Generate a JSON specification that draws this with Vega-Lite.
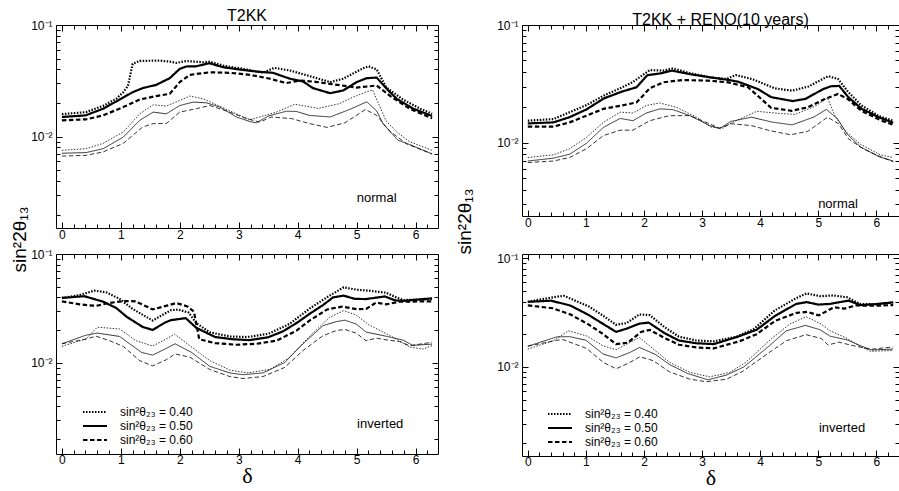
{
"$schema":"https://vega.github.io/schema/vega-lite/v6.json",
"background":"white",
"padding":{"left":9,"top":7,"right":3,"bottom":0},
"config":{"font":"Liberation Sans","view":{"stroke":"black","strokeWidth":1},
"axis":{"domain":false,"grid":false,"tickColor":"black","tickWidth":1,"labelFontSize":12,"labelColor":"black","titleColor":"black","titleFontWeight":"normal","labelFlush":false,"labelOverlap":false,"labelBound":false},
"title":{"fontSize":16,"fontWeight":"normal","color":"black"},
"legend":{"padding":0}},
"datasets":{
"notes":[{"p":"A","x":5.34,"y":0.00281,"t":"normal"},{"p":"C","x":5.34,"y":0.00303,"t":"normal"},{"p":"B","x":5.4,"y":0.00275,"t":"inverted"},{"p":"D","x":5.41,"y":0.00276,"t":"inverted"}],
"d":[
{"p":"A","s":"0.40","w":"thick","x":0,"y":0.0159},{"p":"A","s":"0.40","w":"thick","x":0.41,"y":0.0166},{"p":"A","s":"0.40","w":"thick","x":0.7,"y":0.0189},{"p":"A","s":"0.40","w":"thick","x":0.92,"y":0.0218},{"p":"A","s":"0.40","w":"thick","x":1.04,"y":0.025},{"p":"A","s":"0.40","w":"thick","x":1.12,"y":0.0284},{"p":"A","s":"0.40","w":"thick","x":1.2,"y":0.0449},{"p":"A","s":"0.40","w":"thick","x":1.32,"y":0.0477},{"p":"A","s":"0.40","w":"thick","x":1.66,"y":0.048},{"p":"A","s":"0.40","w":"thick","x":1.83,"y":0.047},{"p":"A","s":"0.40","w":"thick","x":1.94,"y":0.0458},{"p":"A","s":"0.40","w":"thick","x":2.11,"y":0.0475},{"p":"A","s":"0.40","w":"thick","x":2.4,"y":0.0464},{"p":"A","s":"0.40","w":"thick","x":2.51,"y":0.047},{"p":"A","s":"0.40","w":"thick","x":2.73,"y":0.0433},{"p":"A","s":"0.40","w":"thick","x":3.07,"y":0.0405},{"p":"A","s":"0.40","w":"thick","x":3.41,"y":0.0373},{"p":"A","s":"0.40","w":"thick","x":3.6,"y":0.0413},{"p":"A","s":"0.40","w":"thick","x":3.87,"y":0.0391},{"p":"A","s":"0.40","w":"thick","x":4.2,"y":0.0349},{"p":"A","s":"0.40","w":"thick","x":4.55,"y":0.0308},{"p":"A","s":"0.40","w":"thick","x":4.77,"y":0.033},{"p":"A","s":"0.40","w":"thick","x":5.11,"y":0.041},{"p":"A","s":"0.40","w":"thick","x":5.2,"y":0.0427},{"p":"A","s":"0.40","w":"thick","x":5.34,"y":0.04},{"p":"A","s":"0.40","w":"thick","x":5.5,"y":0.0277},{"p":"A","s":"0.40","w":"thick","x":5.79,"y":0.0214},{"p":"A","s":"0.40","w":"thick","x":6.08,"y":0.0178},{"p":"A","s":"0.40","w":"thick","x":6.28,"y":0.016},
{"p":"A","s":"0.50","w":"thick","x":0,"y":0.015},{"p":"A","s":"0.50","w":"thick","x":0.4,"y":0.0155},{"p":"A","s":"0.50","w":"thick","x":0.7,"y":0.0178},{"p":"A","s":"0.50","w":"thick","x":1.0,"y":0.0218},{"p":"A","s":"0.50","w":"thick","x":1.2,"y":0.025},{"p":"A","s":"0.50","w":"thick","x":1.37,"y":0.0272},{"p":"A","s":"0.50","w":"thick","x":1.6,"y":0.0291},{"p":"A","s":"0.50","w":"thick","x":1.83,"y":0.0334},{"p":"A","s":"0.50","w":"thick","x":2.0,"y":0.0405},{"p":"A","s":"0.50","w":"thick","x":2.11,"y":0.0425},{"p":"A","s":"0.50","w":"thick","x":2.28,"y":0.0427},{"p":"A","s":"0.50","w":"thick","x":2.5,"y":0.0455},{"p":"A","s":"0.50","w":"thick","x":2.73,"y":0.0419},{"p":"A","s":"0.50","w":"thick","x":3.02,"y":0.0399},{"p":"A","s":"0.50","w":"thick","x":3.3,"y":0.0383},{"p":"A","s":"0.50","w":"thick","x":3.58,"y":0.0373},{"p":"A","s":"0.50","w":"thick","x":3.87,"y":0.033},{"p":"A","s":"0.50","w":"thick","x":4.09,"y":0.0312},{"p":"A","s":"0.50","w":"thick","x":4.26,"y":0.0272},{"p":"A","s":"0.50","w":"thick","x":4.55,"y":0.0245},{"p":"A","s":"0.50","w":"thick","x":4.77,"y":0.0259},{"p":"A","s":"0.50","w":"thick","x":5.0,"y":0.0308},{"p":"A","s":"0.50","w":"thick","x":5.17,"y":0.0334},{"p":"A","s":"0.50","w":"thick","x":5.34,"y":0.0338},{"p":"A","s":"0.50","w":"thick","x":5.51,"y":0.0268},{"p":"A","s":"0.50","w":"thick","x":5.68,"y":0.0218},{"p":"A","s":"0.50","w":"thick","x":5.96,"y":0.0178},{"p":"A","s":"0.50","w":"thick","x":6.28,"y":0.0153},
{"p":"A","s":"0.60","w":"thick","x":0,"y":0.014},{"p":"A","s":"0.60","w":"thick","x":0.41,"y":0.0143},{"p":"A","s":"0.60","w":"thick","x":0.7,"y":0.0155},{"p":"A","s":"0.60","w":"thick","x":1.04,"y":0.0184},{"p":"A","s":"0.60","w":"thick","x":1.32,"y":0.0215},{"p":"A","s":"0.60","w":"thick","x":1.6,"y":0.0231},{"p":"A","s":"0.60","w":"thick","x":1.83,"y":0.0242},{"p":"A","s":"0.60","w":"thick","x":2.0,"y":0.0308},{"p":"A","s":"0.60","w":"thick","x":2.17,"y":0.0358},{"p":"A","s":"0.60","w":"thick","x":2.51,"y":0.0377},{"p":"A","s":"0.60","w":"thick","x":2.85,"y":0.0373},{"p":"A","s":"0.60","w":"thick","x":3.19,"y":0.0358},{"p":"A","s":"0.60","w":"thick","x":3.53,"y":0.033},{"p":"A","s":"0.60","w":"thick","x":3.81,"y":0.0302},{"p":"A","s":"0.60","w":"thick","x":4.04,"y":0.0318},{"p":"A","s":"0.60","w":"thick","x":4.3,"y":0.031},{"p":"A","s":"0.60","w":"thick","x":4.55,"y":0.0297},{"p":"A","s":"0.60","w":"thick","x":4.8,"y":0.0285},{"p":"A","s":"0.60","w":"thick","x":5.0,"y":0.0275},{"p":"A","s":"0.60","w":"thick","x":5.34,"y":0.0287},{"p":"A","s":"0.60","w":"thick","x":5.56,"y":0.0233},{"p":"A","s":"0.60","w":"thick","x":5.9,"y":0.0178},{"p":"A","s":"0.60","w":"thick","x":6.28,"y":0.0146},
{"p":"A","s":"0.40","w":"thin","x":0,"y":0.00755},{"p":"A","s":"0.40","w":"thin","x":0.41,"y":0.0078},{"p":"A","s":"0.40","w":"thin","x":0.7,"y":0.0087},{"p":"A","s":"0.40","w":"thin","x":1.04,"y":0.011},{"p":"A","s":"0.40","w":"thin","x":1.32,"y":0.016},{"p":"A","s":"0.40","w":"thin","x":1.55,"y":0.0193},{"p":"A","s":"0.40","w":"thin","x":1.77,"y":0.0188},{"p":"A","s":"0.40","w":"thin","x":2.0,"y":0.0211},{"p":"A","s":"0.40","w":"thin","x":2.17,"y":0.0231},{"p":"A","s":"0.40","w":"thin","x":2.4,"y":0.0218},{"p":"A","s":"0.40","w":"thin","x":2.62,"y":0.0193},{"p":"A","s":"0.40","w":"thin","x":2.96,"y":0.016},{"p":"A","s":"0.40","w":"thin","x":3.19,"y":0.0142},{"p":"A","s":"0.40","w":"thin","x":3.41,"y":0.0153},{"p":"A","s":"0.40","w":"thin","x":3.64,"y":0.0166},{"p":"A","s":"0.40","w":"thin","x":3.95,"y":0.0195},{"p":"A","s":"0.40","w":"thin","x":4.35,"y":0.0179},{"p":"A","s":"0.40","w":"thin","x":4.7,"y":0.0197},{"p":"A","s":"0.40","w":"thin","x":4.94,"y":0.0226},{"p":"A","s":"0.40","w":"thin","x":5.15,"y":0.025},{"p":"A","s":"0.40","w":"thin","x":5.27,"y":0.0262},{"p":"A","s":"0.40","w":"thin","x":5.5,"y":0.0138},{"p":"A","s":"0.40","w":"thin","x":5.68,"y":0.011},{"p":"A","s":"0.40","w":"thin","x":5.9,"y":0.009},{"p":"A","s":"0.40","w":"thin","x":6.28,"y":0.00755},
{"p":"A","s":"0.50","w":"thin","x":0,"y":0.0071},{"p":"A","s":"0.50","w":"thin","x":0.41,"y":0.0072},{"p":"A","s":"0.50","w":"thin","x":0.7,"y":0.0078},{"p":"A","s":"0.50","w":"thin","x":1.04,"y":0.0099},{"p":"A","s":"0.50","w":"thin","x":1.32,"y":0.014},{"p":"A","s":"0.50","w":"thin","x":1.55,"y":0.0166},{"p":"A","s":"0.50","w":"thin","x":1.77,"y":0.016},{"p":"A","s":"0.50","w":"thin","x":2.0,"y":0.019},{"p":"A","s":"0.50","w":"thin","x":2.23,"y":0.0204},{"p":"A","s":"0.50","w":"thin","x":2.45,"y":0.0201},{"p":"A","s":"0.50","w":"thin","x":2.68,"y":0.0184},{"p":"A","s":"0.50","w":"thin","x":2.96,"y":0.015},{"p":"A","s":"0.50","w":"thin","x":3.2,"y":0.0136},{"p":"A","s":"0.50","w":"thin","x":3.3,"y":0.0133},{"p":"A","s":"0.50","w":"thin","x":3.5,"y":0.0153},{"p":"A","s":"0.50","w":"thin","x":3.81,"y":0.0169},{"p":"A","s":"0.50","w":"thin","x":3.98,"y":0.0168},{"p":"A","s":"0.50","w":"thin","x":4.2,"y":0.0155},{"p":"A","s":"0.50","w":"thin","x":4.55,"y":0.015},{"p":"A","s":"0.50","w":"thin","x":4.89,"y":0.0176},{"p":"A","s":"0.50","w":"thin","x":5.17,"y":0.0205},{"p":"A","s":"0.50","w":"thin","x":5.34,"y":0.017},{"p":"A","s":"0.50","w":"thin","x":5.45,"y":0.013},{"p":"A","s":"0.50","w":"thin","x":5.7,"y":0.0093},{"p":"A","s":"0.50","w":"thin","x":5.9,"y":0.0085},{"p":"A","s":"0.50","w":"thin","x":6.28,"y":0.007},
{"p":"A","s":"0.60","w":"thin","x":0,"y":0.0067},{"p":"A","s":"0.60","w":"thin","x":0.41,"y":0.0068},{"p":"A","s":"0.60","w":"thin","x":0.7,"y":0.0073},{"p":"A","s":"0.60","w":"thin","x":1.04,"y":0.0087},{"p":"A","s":"0.60","w":"thin","x":1.37,"y":0.0122},{"p":"A","s":"0.60","w":"thin","x":1.55,"y":0.0131},{"p":"A","s":"0.60","w":"thin","x":1.77,"y":0.0131},{"p":"A","s":"0.60","w":"thin","x":2.0,"y":0.0166},{"p":"A","s":"0.60","w":"thin","x":2.28,"y":0.0178},{"p":"A","s":"0.60","w":"thin","x":2.51,"y":0.019},{"p":"A","s":"0.60","w":"thin","x":2.85,"y":0.0166},{"p":"A","s":"0.60","w":"thin","x":3.13,"y":0.0145},{"p":"A","s":"0.60","w":"thin","x":3.36,"y":0.0135},{"p":"A","s":"0.60","w":"thin","x":3.55,"y":0.015},{"p":"A","s":"0.60","w":"thin","x":3.9,"y":0.0145},{"p":"A","s":"0.60","w":"thin","x":4.2,"y":0.0131},{"p":"A","s":"0.60","w":"thin","x":4.5,"y":0.0121},{"p":"A","s":"0.60","w":"thin","x":4.8,"y":0.0133},{"p":"A","s":"0.60","w":"thin","x":5.15,"y":0.0175},{"p":"A","s":"0.60","w":"thin","x":5.34,"y":0.0155},{"p":"A","s":"0.60","w":"thin","x":5.56,"y":0.0112},{"p":"A","s":"0.60","w":"thin","x":5.85,"y":0.0086},{"p":"A","s":"0.60","w":"thin","x":6.28,"y":0.007},
{"p":"B","s":"0.40","w":"thick","x":0,"y":0.0395},{"p":"B","s":"0.40","w":"thick","x":0.3,"y":0.042},{"p":"B","s":"0.40","w":"thick","x":0.55,"y":0.0461},{"p":"B","s":"0.40","w":"thick","x":0.75,"y":0.0445},{"p":"B","s":"0.40","w":"thick","x":0.98,"y":0.0387},{"p":"B","s":"0.40","w":"thick","x":1.2,"y":0.0313},{"p":"B","s":"0.40","w":"thick","x":1.54,"y":0.0245},{"p":"B","s":"0.40","w":"thick","x":1.85,"y":0.0305},{"p":"B","s":"0.40","w":"thick","x":1.97,"y":0.0309},{"p":"B","s":"0.40","w":"thick","x":2.15,"y":0.029},{"p":"B","s":"0.40","w":"thick","x":2.28,"y":0.0232},{"p":"B","s":"0.40","w":"thick","x":2.51,"y":0.0191},{"p":"B","s":"0.40","w":"thick","x":2.85,"y":0.0175},{"p":"B","s":"0.40","w":"thick","x":3.15,"y":0.0173},{"p":"B","s":"0.40","w":"thick","x":3.5,"y":0.0185},{"p":"B","s":"0.40","w":"thick","x":3.86,"y":0.0228},{"p":"B","s":"0.40","w":"thick","x":4.2,"y":0.0315},{"p":"B","s":"0.40","w":"thick","x":4.54,"y":0.0415},{"p":"B","s":"0.40","w":"thick","x":4.78,"y":0.0494},{"p":"B","s":"0.40","w":"thick","x":5.0,"y":0.047},{"p":"B","s":"0.40","w":"thick","x":5.2,"y":0.0461},{"p":"B","s":"0.40","w":"thick","x":5.5,"y":0.0441},{"p":"B","s":"0.40","w":"thick","x":5.67,"y":0.04},{"p":"B","s":"0.40","w":"thick","x":5.8,"y":0.0378},{"p":"B","s":"0.40","w":"thick","x":6.28,"y":0.0385},
{"p":"B","s":"0.50","w":"thick","x":0,"y":0.0395},{"p":"B","s":"0.50","w":"thick","x":0.38,"y":0.041},{"p":"B","s":"0.50","w":"thick","x":0.7,"y":0.0365},{"p":"B","s":"0.50","w":"thick","x":0.92,"y":0.032},{"p":"B","s":"0.50","w":"thick","x":1.1,"y":0.0265},{"p":"B","s":"0.50","w":"thick","x":1.37,"y":0.0214},{"p":"B","s":"0.50","w":"thick","x":1.54,"y":0.0201},{"p":"B","s":"0.50","w":"thick","x":1.75,"y":0.0235},{"p":"B","s":"0.50","w":"thick","x":1.85,"y":0.0247},{"p":"B","s":"0.50","w":"thick","x":2.1,"y":0.0258},{"p":"B","s":"0.50","w":"thick","x":2.28,"y":0.021},{"p":"B","s":"0.50","w":"thick","x":2.6,"y":0.0173},{"p":"B","s":"0.50","w":"thick","x":2.9,"y":0.0165},{"p":"B","s":"0.50","w":"thick","x":3.18,"y":0.0162},{"p":"B","s":"0.50","w":"thick","x":3.5,"y":0.0172},{"p":"B","s":"0.50","w":"thick","x":3.75,"y":0.0195},{"p":"B","s":"0.50","w":"thick","x":4.0,"y":0.0236},{"p":"B","s":"0.50","w":"thick","x":4.2,"y":0.0282},{"p":"B","s":"0.50","w":"thick","x":4.43,"y":0.034},{"p":"B","s":"0.50","w":"thick","x":4.6,"y":0.04},{"p":"B","s":"0.50","w":"thick","x":4.78,"y":0.0415},{"p":"B","s":"0.50","w":"thick","x":4.97,"y":0.0387},{"p":"B","s":"0.50","w":"thick","x":5.16,"y":0.0386},{"p":"B","s":"0.50","w":"thick","x":5.48,"y":0.0408},{"p":"B","s":"0.50","w":"thick","x":5.65,"y":0.0375},{"p":"B","s":"0.50","w":"thick","x":5.8,"y":0.0372},{"p":"B","s":"0.50","w":"thick","x":6.28,"y":0.0392},
{"p":"B","s":"0.60","w":"thick","x":0,"y":0.0368},{"p":"B","s":"0.60","w":"thick","x":0.3,"y":0.0345},{"p":"B","s":"0.60","w":"thick","x":0.58,"y":0.0334},{"p":"B","s":"0.60","w":"thick","x":0.8,"y":0.0355},{"p":"B","s":"0.60","w":"thick","x":1.05,"y":0.037},{"p":"B","s":"0.60","w":"thick","x":1.25,"y":0.0368},{"p":"B","s":"0.60","w":"thick","x":1.54,"y":0.031},{"p":"B","s":"0.60","w":"thick","x":1.8,"y":0.0338},{"p":"B","s":"0.60","w":"thick","x":1.94,"y":0.0355},{"p":"B","s":"0.60","w":"thick","x":2.13,"y":0.033},{"p":"B","s":"0.60","w":"thick","x":2.24,"y":0.0296},{"p":"B","s":"0.60","w":"thick","x":2.33,"y":0.0165},{"p":"B","s":"0.60","w":"thick","x":2.6,"y":0.0152},{"p":"B","s":"0.60","w":"thick","x":2.96,"y":0.0147},{"p":"B","s":"0.60","w":"thick","x":3.3,"y":0.015},{"p":"B","s":"0.60","w":"thick","x":3.64,"y":0.016},{"p":"B","s":"0.60","w":"thick","x":3.98,"y":0.0198},{"p":"B","s":"0.60","w":"thick","x":4.2,"y":0.0245},{"p":"B","s":"0.60","w":"thick","x":4.5,"y":0.031},{"p":"B","s":"0.60","w":"thick","x":4.75,"y":0.0329},{"p":"B","s":"0.60","w":"thick","x":5.0,"y":0.0312},{"p":"B","s":"0.60","w":"thick","x":5.16,"y":0.0313},{"p":"B","s":"0.60","w":"thick","x":5.33,"y":0.0358},{"p":"B","s":"0.60","w":"thick","x":5.5,"y":0.0345},{"p":"B","s":"0.60","w":"thick","x":5.73,"y":0.0365},{"p":"B","s":"0.60","w":"thick","x":6.28,"y":0.0368},
{"p":"B","s":"0.40","w":"thin","x":0,"y":0.0142},{"p":"B","s":"0.40","w":"thin","x":0.41,"y":0.0166},{"p":"B","s":"0.40","w":"thin","x":0.6,"y":0.0213},{"p":"B","s":"0.40","w":"thin","x":0.98,"y":0.0205},{"p":"B","s":"0.40","w":"thin","x":1.26,"y":0.016},{"p":"B","s":"0.40","w":"thin","x":1.54,"y":0.0143},{"p":"B","s":"0.40","w":"thin","x":1.77,"y":0.0166},{"p":"B","s":"0.40","w":"thin","x":1.91,"y":0.0184},{"p":"B","s":"0.40","w":"thin","x":2.17,"y":0.0144},{"p":"B","s":"0.40","w":"thin","x":2.51,"y":0.0105},{"p":"B","s":"0.40","w":"thin","x":2.85,"y":0.0086},{"p":"B","s":"0.40","w":"thin","x":3.15,"y":0.0081},{"p":"B","s":"0.40","w":"thin","x":3.52,"y":0.0087},{"p":"B","s":"0.40","w":"thin","x":3.84,"y":0.011},{"p":"B","s":"0.40","w":"thin","x":4.2,"y":0.0175},{"p":"B","s":"0.40","w":"thin","x":4.54,"y":0.0262},{"p":"B","s":"0.40","w":"thin","x":4.78,"y":0.0302},{"p":"B","s":"0.40","w":"thin","x":4.99,"y":0.0276},{"p":"B","s":"0.40","w":"thin","x":5.2,"y":0.0225},{"p":"B","s":"0.40","w":"thin","x":5.5,"y":0.0186},{"p":"B","s":"0.40","w":"thin","x":5.67,"y":0.0166},{"p":"B","s":"0.40","w":"thin","x":5.9,"y":0.014},{"p":"B","s":"0.40","w":"thin","x":6.12,"y":0.0134},{"p":"B","s":"0.40","w":"thin","x":6.28,"y":0.0144},
{"p":"B","s":"0.50","w":"thin","x":0,"y":0.015},{"p":"B","s":"0.50","w":"thin","x":0.41,"y":0.018},{"p":"B","s":"0.50","w":"thin","x":0.6,"y":0.0188},{"p":"B","s":"0.50","w":"thin","x":0.98,"y":0.0175},{"p":"B","s":"0.50","w":"thin","x":1.35,"y":0.0125},{"p":"B","s":"0.50","w":"thin","x":1.54,"y":0.0118},{"p":"B","s":"0.50","w":"thin","x":1.77,"y":0.0136},{"p":"B","s":"0.50","w":"thin","x":1.92,"y":0.015},{"p":"B","s":"0.50","w":"thin","x":2.2,"y":0.0125},{"p":"B","s":"0.50","w":"thin","x":2.51,"y":0.0093},{"p":"B","s":"0.50","w":"thin","x":2.85,"y":0.0081},{"p":"B","s":"0.50","w":"thin","x":3.07,"y":0.0078},{"p":"B","s":"0.50","w":"thin","x":3.41,"y":0.0081},{"p":"B","s":"0.50","w":"thin","x":3.78,"y":0.0101},{"p":"B","s":"0.50","w":"thin","x":4.09,"y":0.015},{"p":"B","s":"0.50","w":"thin","x":4.43,"y":0.022},{"p":"B","s":"0.50","w":"thin","x":4.65,"y":0.0239},{"p":"B","s":"0.50","w":"thin","x":4.8,"y":0.0247},{"p":"B","s":"0.50","w":"thin","x":4.99,"y":0.0228},{"p":"B","s":"0.50","w":"thin","x":5.16,"y":0.0192},{"p":"B","s":"0.50","w":"thin","x":5.5,"y":0.0176},{"p":"B","s":"0.50","w":"thin","x":5.79,"y":0.0162},{"p":"B","s":"0.50","w":"thin","x":5.95,"y":0.0145},{"p":"B","s":"0.50","w":"thin","x":6.28,"y":0.0149},
{"p":"B","s":"0.60","w":"thin","x":0,"y":0.015},{"p":"B","s":"0.60","w":"thin","x":0.41,"y":0.0166},{"p":"B","s":"0.60","w":"thin","x":0.58,"y":0.0176},{"p":"B","s":"0.60","w":"thin","x":0.81,"y":0.016},{"p":"B","s":"0.60","w":"thin","x":1.04,"y":0.0142},{"p":"B","s":"0.60","w":"thin","x":1.32,"y":0.0105},{"p":"B","s":"0.60","w":"thin","x":1.54,"y":0.0094},{"p":"B","s":"0.60","w":"thin","x":1.77,"y":0.0107},{"p":"B","s":"0.60","w":"thin","x":1.92,"y":0.0121},{"p":"B","s":"0.60","w":"thin","x":2.17,"y":0.0113},{"p":"B","s":"0.60","w":"thin","x":2.51,"y":0.0087},{"p":"B","s":"0.60","w":"thin","x":2.85,"y":0.0075},{"p":"B","s":"0.60","w":"thin","x":3.07,"y":0.0072},{"p":"B","s":"0.60","w":"thin","x":3.41,"y":0.0075},{"p":"B","s":"0.60","w":"thin","x":3.78,"y":0.0091},{"p":"B","s":"0.60","w":"thin","x":4.09,"y":0.013},{"p":"B","s":"0.60","w":"thin","x":4.43,"y":0.0178},{"p":"B","s":"0.60","w":"thin","x":4.65,"y":0.0198},{"p":"B","s":"0.60","w":"thin","x":4.8,"y":0.0203},{"p":"B","s":"0.60","w":"thin","x":4.99,"y":0.0188},{"p":"B","s":"0.60","w":"thin","x":5.16,"y":0.016},{"p":"B","s":"0.60","w":"thin","x":5.33,"y":0.0169},{"p":"B","s":"0.60","w":"thin","x":5.5,"y":0.0163},{"p":"B","s":"0.60","w":"thin","x":5.73,"y":0.0157},{"p":"B","s":"0.60","w":"thin","x":5.9,"y":0.0144},{"p":"B","s":"0.60","w":"thin","x":6.28,"y":0.0155},
{"p":"C","s":"0.40","w":"thick","x":0,"y":0.0154},{"p":"C","s":"0.40","w":"thick","x":0.44,"y":0.0159},{"p":"C","s":"0.40","w":"thick","x":0.7,"y":0.018},{"p":"C","s":"0.40","w":"thick","x":1.01,"y":0.0209},{"p":"C","s":"0.40","w":"thick","x":1.33,"y":0.0255},{"p":"C","s":"0.40","w":"thick","x":1.59,"y":0.029},{"p":"C","s":"0.40","w":"thick","x":1.8,"y":0.0326},{"p":"C","s":"0.40","w":"thick","x":2.1,"y":0.0414},{"p":"C","s":"0.40","w":"thick","x":2.33,"y":0.041},{"p":"C","s":"0.40","w":"thick","x":2.5,"y":0.0428},{"p":"C","s":"0.40","w":"thick","x":2.79,"y":0.039},{"p":"C","s":"0.40","w":"thick","x":3.13,"y":0.036},{"p":"C","s":"0.40","w":"thick","x":3.42,"y":0.0348},{"p":"C","s":"0.40","w":"thick","x":3.58,"y":0.0376},{"p":"C","s":"0.40","w":"thick","x":3.88,"y":0.0345},{"p":"C","s":"0.40","w":"thick","x":4.25,"y":0.029},{"p":"C","s":"0.40","w":"thick","x":4.55,"y":0.0277},{"p":"C","s":"0.40","w":"thick","x":4.83,"y":0.03},{"p":"C","s":"0.40","w":"thick","x":5.17,"y":0.0368},{"p":"C","s":"0.40","w":"thick","x":5.34,"y":0.0348},{"p":"C","s":"0.40","w":"thick","x":5.51,"y":0.0272},{"p":"C","s":"0.40","w":"thick","x":5.74,"y":0.0208},{"p":"C","s":"0.40","w":"thick","x":6.05,"y":0.0168},{"p":"C","s":"0.40","w":"thick","x":6.29,"y":0.0154},
{"p":"C","s":"0.50","w":"thick","x":0,"y":0.0146},{"p":"C","s":"0.50","w":"thick","x":0.44,"y":0.0149},{"p":"C","s":"0.50","w":"thick","x":0.72,"y":0.0165},{"p":"C","s":"0.50","w":"thick","x":1.01,"y":0.0192},{"p":"C","s":"0.50","w":"thick","x":1.31,"y":0.0238},{"p":"C","s":"0.50","w":"thick","x":1.62,"y":0.0272},{"p":"C","s":"0.50","w":"thick","x":1.87,"y":0.0296},{"p":"C","s":"0.50","w":"thick","x":2.06,"y":0.0375},{"p":"C","s":"0.50","w":"thick","x":2.28,"y":0.0388},{"p":"C","s":"0.50","w":"thick","x":2.48,"y":0.041},{"p":"C","s":"0.50","w":"thick","x":2.8,"y":0.0382},{"p":"C","s":"0.50","w":"thick","x":3.13,"y":0.036},{"p":"C","s":"0.50","w":"thick","x":3.45,"y":0.0342},{"p":"C","s":"0.50","w":"thick","x":3.62,"y":0.033},{"p":"C","s":"0.50","w":"thick","x":3.96,"y":0.0286},{"p":"C","s":"0.50","w":"thick","x":4.19,"y":0.0244},{"p":"C","s":"0.50","w":"thick","x":4.56,"y":0.0226},{"p":"C","s":"0.50","w":"thick","x":4.78,"y":0.0236},{"p":"C","s":"0.50","w":"thick","x":5.08,"y":0.0285},{"p":"C","s":"0.50","w":"thick","x":5.22,"y":0.0302},{"p":"C","s":"0.50","w":"thick","x":5.36,"y":0.0304},{"p":"C","s":"0.50","w":"thick","x":5.52,"y":0.0243},{"p":"C","s":"0.50","w":"thick","x":5.75,"y":0.0194},{"p":"C","s":"0.50","w":"thick","x":6.05,"y":0.0164},{"p":"C","s":"0.50","w":"thick","x":6.29,"y":0.0148},
{"p":"C","s":"0.60","w":"thick","x":0,"y":0.0137},{"p":"C","s":"0.60","w":"thick","x":0.44,"y":0.0137},{"p":"C","s":"0.60","w":"thick","x":0.72,"y":0.0149},{"p":"C","s":"0.60","w":"thick","x":1.01,"y":0.017},{"p":"C","s":"0.60","w":"thick","x":1.3,"y":0.0194},{"p":"C","s":"0.60","w":"thick","x":1.59,"y":0.0206},{"p":"C","s":"0.60","w":"thick","x":1.87,"y":0.022},{"p":"C","s":"0.60","w":"thick","x":2.1,"y":0.029},{"p":"C","s":"0.60","w":"thick","x":2.33,"y":0.0326},{"p":"C","s":"0.60","w":"thick","x":2.67,"y":0.0341},{"p":"C","s":"0.60","w":"thick","x":3.1,"y":0.0337},{"p":"C","s":"0.60","w":"thick","x":3.45,"y":0.0326},{"p":"C","s":"0.60","w":"thick","x":3.79,"y":0.0296},{"p":"C","s":"0.60","w":"thick","x":3.96,"y":0.025},{"p":"C","s":"0.60","w":"thick","x":4.19,"y":0.0198},{"p":"C","s":"0.60","w":"thick","x":4.54,"y":0.0187},{"p":"C","s":"0.60","w":"thick","x":4.82,"y":0.02},{"p":"C","s":"0.60","w":"thick","x":5.11,"y":0.0235},{"p":"C","s":"0.60","w":"thick","x":5.34,"y":0.026},{"p":"C","s":"0.60","w":"thick","x":5.51,"y":0.0235},{"p":"C","s":"0.60","w":"thick","x":5.74,"y":0.0187},{"p":"C","s":"0.60","w":"thick","x":6.09,"y":0.0154},{"p":"C","s":"0.60","w":"thick","x":6.29,"y":0.0142},
{"p":"C","s":"0.40","w":"thin","x":0,"y":0.0075},{"p":"C","s":"0.40","w":"thin","x":0.44,"y":0.0079},{"p":"C","s":"0.40","w":"thin","x":0.72,"y":0.0089},{"p":"C","s":"0.40","w":"thin","x":1.01,"y":0.0111},{"p":"C","s":"0.40","w":"thin","x":1.3,"y":0.0149},{"p":"C","s":"0.40","w":"thin","x":1.59,"y":0.0182},{"p":"C","s":"0.40","w":"thin","x":1.81,"y":0.0179},{"p":"C","s":"0.40","w":"thin","x":2.04,"y":0.0207},{"p":"C","s":"0.40","w":"thin","x":2.27,"y":0.0218},{"p":"C","s":"0.40","w":"thin","x":2.56,"y":0.02},{"p":"C","s":"0.40","w":"thin","x":2.9,"y":0.0165},{"p":"C","s":"0.40","w":"thin","x":3.15,"y":0.0136},{"p":"C","s":"0.40","w":"thin","x":3.36,"y":0.0133},{"p":"C","s":"0.40","w":"thin","x":3.5,"y":0.0147},{"p":"C","s":"0.40","w":"thin","x":3.94,"y":0.0185},{"p":"C","s":"0.40","w":"thin","x":4.3,"y":0.0178},{"p":"C","s":"0.40","w":"thin","x":4.6,"y":0.0174},{"p":"C","s":"0.40","w":"thin","x":4.95,"y":0.0205},{"p":"C","s":"0.40","w":"thin","x":5.16,"y":0.024},{"p":"C","s":"0.40","w":"thin","x":5.28,"y":0.0172},{"p":"C","s":"0.40","w":"thin","x":5.47,"y":0.0125},{"p":"C","s":"0.40","w":"thin","x":5.73,"y":0.0097},{"p":"C","s":"0.40","w":"thin","x":6.07,"y":0.0079},{"p":"C","s":"0.40","w":"thin","x":6.29,"y":0.0075},
{"p":"C","s":"0.50","w":"thin","x":0,"y":0.007},{"p":"C","s":"0.50","w":"thin","x":0.44,"y":0.0074},{"p":"C","s":"0.50","w":"thin","x":0.72,"y":0.008},{"p":"C","s":"0.50","w":"thin","x":1.01,"y":0.0099},{"p":"C","s":"0.50","w":"thin","x":1.3,"y":0.0135},{"p":"C","s":"0.50","w":"thin","x":1.59,"y":0.0161},{"p":"C","s":"0.50","w":"thin","x":1.81,"y":0.0154},{"p":"C","s":"0.50","w":"thin","x":2.04,"y":0.0179},{"p":"C","s":"0.50","w":"thin","x":2.27,"y":0.0194},{"p":"C","s":"0.50","w":"thin","x":2.5,"y":0.0191},{"p":"C","s":"0.50","w":"thin","x":2.79,"y":0.017},{"p":"C","s":"0.50","w":"thin","x":3.13,"y":0.014},{"p":"C","s":"0.50","w":"thin","x":3.3,"y":0.0132},{"p":"C","s":"0.50","w":"thin","x":3.5,"y":0.0152},{"p":"C","s":"0.50","w":"thin","x":3.85,"y":0.0165},{"p":"C","s":"0.50","w":"thin","x":4.2,"y":0.015},{"p":"C","s":"0.50","w":"thin","x":4.55,"y":0.0142},{"p":"C","s":"0.50","w":"thin","x":4.92,"y":0.0165},{"p":"C","s":"0.50","w":"thin","x":5.14,"y":0.0192},{"p":"C","s":"0.50","w":"thin","x":5.33,"y":0.016},{"p":"C","s":"0.50","w":"thin","x":5.5,"y":0.0118},{"p":"C","s":"0.50","w":"thin","x":5.73,"y":0.0092},{"p":"C","s":"0.50","w":"thin","x":6.05,"y":0.0076},{"p":"C","s":"0.50","w":"thin","x":6.29,"y":0.007},
{"p":"C","s":"0.60","w":"thin","x":0,"y":0.0068},{"p":"C","s":"0.60","w":"thin","x":0.44,"y":0.007},{"p":"C","s":"0.60","w":"thin","x":0.72,"y":0.0075},{"p":"C","s":"0.60","w":"thin","x":1.01,"y":0.0089},{"p":"C","s":"0.60","w":"thin","x":1.3,"y":0.0115},{"p":"C","s":"0.60","w":"thin","x":1.59,"y":0.0128},{"p":"C","s":"0.60","w":"thin","x":1.81,"y":0.0128},{"p":"C","s":"0.60","w":"thin","x":2.1,"y":0.0154},{"p":"C","s":"0.60","w":"thin","x":2.44,"y":0.017},{"p":"C","s":"0.60","w":"thin","x":2.79,"y":0.017},{"p":"C","s":"0.60","w":"thin","x":3.13,"y":0.0145},{"p":"C","s":"0.60","w":"thin","x":3.3,"y":0.0133},{"p":"C","s":"0.60","w":"thin","x":3.5,"y":0.0145},{"p":"C","s":"0.60","w":"thin","x":3.85,"y":0.014},{"p":"C","s":"0.60","w":"thin","x":4.16,"y":0.0127},{"p":"C","s":"0.60","w":"thin","x":4.52,"y":0.0117},{"p":"C","s":"0.60","w":"thin","x":4.82,"y":0.0125},{"p":"C","s":"0.60","w":"thin","x":5.16,"y":0.0165},{"p":"C","s":"0.60","w":"thin","x":5.35,"y":0.0145},{"p":"C","s":"0.60","w":"thin","x":5.52,"y":0.0108},{"p":"C","s":"0.60","w":"thin","x":5.77,"y":0.0089},{"p":"C","s":"0.60","w":"thin","x":6.05,"y":0.0077},{"p":"C","s":"0.60","w":"thin","x":6.29,"y":0.0069},
{"p":"D","s":"0.40","w":"thick","x":0,"y":0.0398},{"p":"D","s":"0.40","w":"thick","x":0.44,"y":0.0438},{"p":"D","s":"0.40","w":"thick","x":0.62,"y":0.0452},{"p":"D","s":"0.40","w":"thick","x":1.05,"y":0.036},{"p":"D","s":"0.40","w":"thick","x":1.3,"y":0.0295},{"p":"D","s":"0.40","w":"thick","x":1.52,"y":0.0244},{"p":"D","s":"0.40","w":"thick","x":1.7,"y":0.0253},{"p":"D","s":"0.40","w":"thick","x":1.92,"y":0.0304},{"p":"D","s":"0.40","w":"thick","x":2.1,"y":0.03},{"p":"D","s":"0.40","w":"thick","x":2.35,"y":0.0233},{"p":"D","s":"0.40","w":"thick","x":2.6,"y":0.019},{"p":"D","s":"0.40","w":"thick","x":2.9,"y":0.0175},{"p":"D","s":"0.40","w":"thick","x":3.2,"y":0.0172},{"p":"D","s":"0.40","w":"thick","x":3.6,"y":0.019},{"p":"D","s":"0.40","w":"thick","x":3.9,"y":0.0225},{"p":"D","s":"0.40","w":"thick","x":4.25,"y":0.033},{"p":"D","s":"0.40","w":"thick","x":4.62,"y":0.043},{"p":"D","s":"0.40","w":"thick","x":4.8,"y":0.0475},{"p":"D","s":"0.40","w":"thick","x":5.03,"y":0.0448},{"p":"D","s":"0.40","w":"thick","x":5.26,"y":0.0455},{"p":"D","s":"0.40","w":"thick","x":5.5,"y":0.0437},{"p":"D","s":"0.40","w":"thick","x":5.72,"y":0.038},{"p":"D","s":"0.40","w":"thick","x":6.0,"y":0.0378},{"p":"D","s":"0.40","w":"thick","x":6.29,"y":0.039},
{"p":"D","s":"0.50","w":"thick","x":0,"y":0.0397},{"p":"D","s":"0.50","w":"thick","x":0.4,"y":0.0407},{"p":"D","s":"0.50","w":"thick","x":0.73,"y":0.0368},{"p":"D","s":"0.50","w":"thick","x":1.05,"y":0.03},{"p":"D","s":"0.50","w":"thick","x":1.3,"y":0.0248},{"p":"D","s":"0.50","w":"thick","x":1.52,"y":0.021},{"p":"D","s":"0.50","w":"thick","x":1.7,"y":0.0225},{"p":"D","s":"0.50","w":"thick","x":1.92,"y":0.025},{"p":"D","s":"0.50","w":"thick","x":2.08,"y":0.0256},{"p":"D","s":"0.50","w":"thick","x":2.35,"y":0.0205},{"p":"D","s":"0.50","w":"thick","x":2.6,"y":0.0175},{"p":"D","s":"0.50","w":"thick","x":2.9,"y":0.0165},{"p":"D","s":"0.50","w":"thick","x":3.2,"y":0.0162},{"p":"D","s":"0.50","w":"thick","x":3.62,"y":0.019},{"p":"D","s":"0.50","w":"thick","x":3.94,"y":0.022},{"p":"D","s":"0.50","w":"thick","x":4.26,"y":0.0296},{"p":"D","s":"0.50","w":"thick","x":4.62,"y":0.038},{"p":"D","s":"0.50","w":"thick","x":4.8,"y":0.0395},{"p":"D","s":"0.50","w":"thick","x":5.0,"y":0.0375},{"p":"D","s":"0.50","w":"thick","x":5.2,"y":0.038},{"p":"D","s":"0.50","w":"thick","x":5.37,"y":0.0395},{"p":"D","s":"0.50","w":"thick","x":5.52,"y":0.0407},{"p":"D","s":"0.50","w":"thick","x":5.73,"y":0.0371},{"p":"D","s":"0.50","w":"thick","x":6.0,"y":0.0379},{"p":"D","s":"0.50","w":"thick","x":6.29,"y":0.0393},
{"p":"D","s":"0.60","w":"thick","x":0,"y":0.0368},{"p":"D","s":"0.60","w":"thick","x":0.43,"y":0.0347},{"p":"D","s":"0.60","w":"thick","x":0.74,"y":0.0303},{"p":"D","s":"0.60","w":"thick","x":1.05,"y":0.0245},{"p":"D","s":"0.60","w":"thick","x":1.3,"y":0.02},{"p":"D","s":"0.60","w":"thick","x":1.52,"y":0.0162},{"p":"D","s":"0.60","w":"thick","x":1.72,"y":0.0167},{"p":"D","s":"0.60","w":"thick","x":1.95,"y":0.021},{"p":"D","s":"0.60","w":"thick","x":2.1,"y":0.0219},{"p":"D","s":"0.60","w":"thick","x":2.35,"y":0.0185},{"p":"D","s":"0.60","w":"thick","x":2.6,"y":0.016},{"p":"D","s":"0.60","w":"thick","x":2.9,"y":0.0151},{"p":"D","s":"0.60","w":"thick","x":3.2,"y":0.0148},{"p":"D","s":"0.60","w":"thick","x":3.64,"y":0.0172},{"p":"D","s":"0.60","w":"thick","x":3.94,"y":0.02},{"p":"D","s":"0.60","w":"thick","x":4.26,"y":0.0266},{"p":"D","s":"0.60","w":"thick","x":4.63,"y":0.0315},{"p":"D","s":"0.60","w":"thick","x":4.81,"y":0.0321},{"p":"D","s":"0.60","w":"thick","x":5.01,"y":0.0298},{"p":"D","s":"0.60","w":"thick","x":5.27,"y":0.0354},{"p":"D","s":"0.60","w":"thick","x":5.45,"y":0.0344},{"p":"D","s":"0.60","w":"thick","x":5.65,"y":0.0368},{"p":"D","s":"0.60","w":"thick","x":6.0,"y":0.0366},{"p":"D","s":"0.60","w":"thick","x":6.29,"y":0.0371},
{"p":"D","s":"0.40","w":"thin","x":0,"y":0.0146},{"p":"D","s":"0.40","w":"thin","x":0.44,"y":0.0174},{"p":"D","s":"0.40","w":"thin","x":0.7,"y":0.0215},{"p":"D","s":"0.40","w":"thin","x":1.01,"y":0.0193},{"p":"D","s":"0.40","w":"thin","x":1.3,"y":0.0156},{"p":"D","s":"0.40","w":"thin","x":1.52,"y":0.0144},{"p":"D","s":"0.40","w":"thin","x":1.76,"y":0.0168},{"p":"D","s":"0.40","w":"thin","x":1.92,"y":0.0187},{"p":"D","s":"0.40","w":"thin","x":2.16,"y":0.0146},{"p":"D","s":"0.40","w":"thin","x":2.44,"y":0.011},{"p":"D","s":"0.40","w":"thin","x":2.79,"y":0.0089},{"p":"D","s":"0.40","w":"thin","x":3.13,"y":0.0081},{"p":"D","s":"0.40","w":"thin","x":3.48,"y":0.0089},{"p":"D","s":"0.40","w":"thin","x":3.75,"y":0.011},{"p":"D","s":"0.40","w":"thin","x":4.2,"y":0.0183},{"p":"D","s":"0.40","w":"thin","x":4.51,"y":0.0248},{"p":"D","s":"0.40","w":"thin","x":4.79,"y":0.029},{"p":"D","s":"0.40","w":"thin","x":5.05,"y":0.0248},{"p":"D","s":"0.40","w":"thin","x":5.2,"y":0.0215},{"p":"D","s":"0.40","w":"thin","x":5.48,"y":0.0185},{"p":"D","s":"0.40","w":"thin","x":5.71,"y":0.0156},{"p":"D","s":"0.40","w":"thin","x":5.9,"y":0.0139},{"p":"D","s":"0.40","w":"thin","x":6.29,"y":0.0142},
{"p":"D","s":"0.50","w":"thin","x":0,"y":0.0155},{"p":"D","s":"0.50","w":"thin","x":0.5,"y":0.0189},{"p":"D","s":"0.50","w":"thin","x":0.72,"y":0.019},{"p":"D","s":"0.50","w":"thin","x":1.0,"y":0.0176},{"p":"D","s":"0.50","w":"thin","x":1.3,"y":0.0131},{"p":"D","s":"0.50","w":"thin","x":1.52,"y":0.0121},{"p":"D","s":"0.50","w":"thin","x":1.76,"y":0.0136},{"p":"D","s":"0.50","w":"thin","x":1.92,"y":0.0151},{"p":"D","s":"0.50","w":"thin","x":2.2,"y":0.013},{"p":"D","s":"0.50","w":"thin","x":2.44,"y":0.0105},{"p":"D","s":"0.50","w":"thin","x":2.75,"y":0.0087},{"p":"D","s":"0.50","w":"thin","x":3.1,"y":0.0076},{"p":"D","s":"0.50","w":"thin","x":3.42,"y":0.0084},{"p":"D","s":"0.50","w":"thin","x":3.72,"y":0.01},{"p":"D","s":"0.50","w":"thin","x":4.15,"y":0.0155},{"p":"D","s":"0.50","w":"thin","x":4.45,"y":0.0215},{"p":"D","s":"0.50","w":"thin","x":4.78,"y":0.0241},{"p":"D","s":"0.50","w":"thin","x":5.03,"y":0.022},{"p":"D","s":"0.50","w":"thin","x":5.2,"y":0.0192},{"p":"D","s":"0.50","w":"thin","x":5.5,"y":0.0177},{"p":"D","s":"0.50","w":"thin","x":5.71,"y":0.0158},{"p":"D","s":"0.50","w":"thin","x":5.92,"y":0.0143},{"p":"D","s":"0.50","w":"thin","x":6.29,"y":0.0146},
{"p":"D","s":"0.60","w":"thin","x":0,"y":0.0155},{"p":"D","s":"0.60","w":"thin","x":0.5,"y":0.0176},{"p":"D","s":"0.60","w":"thin","x":0.61,"y":0.0178},{"p":"D","s":"0.60","w":"thin","x":1.01,"y":0.0148},{"p":"D","s":"0.60","w":"thin","x":1.3,"y":0.011},{"p":"D","s":"0.60","w":"thin","x":1.52,"y":0.0096},{"p":"D","s":"0.60","w":"thin","x":1.76,"y":0.011},{"p":"D","s":"0.60","w":"thin","x":1.93,"y":0.0124},{"p":"D","s":"0.60","w":"thin","x":2.16,"y":0.0114},{"p":"D","s":"0.60","w":"thin","x":2.44,"y":0.009},{"p":"D","s":"0.60","w":"thin","x":2.79,"y":0.0077},{"p":"D","s":"0.60","w":"thin","x":3.07,"y":0.0073},{"p":"D","s":"0.60","w":"thin","x":3.42,"y":0.0077},{"p":"D","s":"0.60","w":"thin","x":3.7,"y":0.0091},{"p":"D","s":"0.60","w":"thin","x":4.15,"y":0.0135},{"p":"D","s":"0.60","w":"thin","x":4.45,"y":0.0174},{"p":"D","s":"0.60","w":"thin","x":4.79,"y":0.0198},{"p":"D","s":"0.60","w":"thin","x":5.05,"y":0.0183},{"p":"D","s":"0.60","w":"thin","x":5.17,"y":0.0159},{"p":"D","s":"0.60","w":"thin","x":5.35,"y":0.0169},{"p":"D","s":"0.60","w":"thin","x":5.6,"y":0.0157},{"p":"D","s":"0.60","w":"thin","x":5.9,"y":0.0145},{"p":"D","s":"0.60","w":"thin","x":6.29,"y":0.0153}
]},
"columns":2,
"spacing":{"row":26,"column":84},
"bounds":"flush",
"resolve":{"scale":{"strokeDash":"independent","strokeWidth":"independent"},"legend":{"strokeDash":"independent"}},
"concat":[
{"width":382,"height":203,"title":{"text":"T2KK","offset":-5},
"layer":[
{"data":{"name":"d"},"transform":[{"filter":"datum.p === 'A'"}],"mark":{"type":"line","color":"black","strokeCap":"butt"},
"encoding":{
"x":{"field":"x","type":"quantitative","scale":{"domain":[-0.1,6.38],"nice":false,"zero":false},"axis":{"orient":"bottom","title":null,"values":[0,0.2,0.4,0.6,0.8,1,1.2,1.4,1.6,1.8,2,2.2,2.4,2.6,2.8,3,3.2,3.4,3.6,3.8,4,4.2,4.4,4.6,4.8,5,5.2,5.4,5.6,5.8,6,6.2],"labelExpr":"datum.value % 1 === 0 ? format(datum.value, 'd') : ''","tickSize":{"condition":{"test":"datum.value % 1 === 0","value":-6},"value":-4},"labelPadding":7}},
"y":{"field":"y","type":"quantitative","scale":{"type":"log","domain":[0.00152,0.1],"nice":false},"axis":{"orient":"left","values":[0.002,0.003,0.004,0.005,0.006,0.007,0.008,0.009,0.01,0.02,0.03,0.04,0.05,0.06,0.07,0.08,0.09,0.1],"labelExpr":"datum.value === 0.1 ? '10⁻¹' : datum.value === 0.01 ? '10⁻²' : ''","tickSize":{"condition":{"test":"datum.value === 0.1 || datum.value === 0.01","value":-6},"value":-4},"labelPadding":10,"labelBaseline":"middle","title":"sin²2θ₁₃","titleFontSize":19,"titleX":-37,"titleY":214,"titleBaseline":"middle","titleAngle":-90}},
"strokeDash":{"field":"s","type":"nominal","scale":{"domain":["0.40","0.50","0.60"],"range":[[1.5,1.5],[1,0],[4.5,2.5]]},"legend":null},
"strokeWidth":{"field":"w","type":"nominal","scale":{"type":"ordinal","domain":["thick","thin"],"range":[2.2,0.8]},"legend":null}}},
{"data":{"name":"notes"},"transform":[{"filter":"datum.p === 'A'"}],"mark":{"type":"text","fontSize":13,"color":"black","align":"center","baseline":"middle"},
"encoding":{
"x":{"field":"x","type":"quantitative","axis":{"orient":"top","title":null,"labels":false,"values":[0,0.2,0.4,0.6,0.8,1,1.2,1.4,1.6,1.8,2,2.2,2.4,2.6,2.8,3,3.2,3.4,3.6,3.8,4,4.2,4.4,4.6,4.8,5,5.2,5.4,5.6,5.8,6,6.2],"tickSize":{"condition":{"test":"datum.value % 1 === 0","value":-6},"value":-4}}},
"y":{"field":"y","type":"quantitative","axis":{"orient":"right","title":null,"labels":false,"values":[0.002,0.003,0.004,0.005,0.006,0.007,0.008,0.009,0.01,0.02,0.03,0.04,0.05,0.06,0.07,0.08,0.09,0.1],"tickSize":{"condition":{"test":"datum.value === 0.1 || datum.value === 0.01","value":-6},"value":-4}}},
"text":{"field":"t"}}}
],
"resolve":{"axis":{"x":"independent","y":"independent"}}},
{"width":377,"height":191,"title":{"text":"T2KK + RENO(10 years)","offset":-9,"dx":10},
"layer":[
{"data":{"name":"d"},"transform":[{"filter":"datum.p === 'C'"}],"mark":{"type":"line","color":"black","strokeCap":"butt"},
"encoding":{
"x":{"field":"x","type":"quantitative","scale":{"domain":[-0.1,6.39],"nice":false,"zero":false},"axis":{"orient":"bottom","title":null,"values":[0,0.2,0.4,0.6,0.8,1,1.2,1.4,1.6,1.8,2,2.2,2.4,2.6,2.8,3,3.2,3.4,3.6,3.8,4,4.2,4.4,4.6,4.8,5,5.2,5.4,5.6,5.8,6,6.2],"labelExpr":"datum.value % 1 === 0 ? format(datum.value, 'd') : ''","tickSize":{"condition":{"test":"datum.value % 1 === 0","value":-6},"value":-4},"labelPadding":7}},
"y":{"field":"y","type":"quantitative","scale":{"type":"log","domain":[0.00239,0.1],"nice":false},"axis":{"orient":"left","values":[0.003,0.004,0.005,0.006,0.007,0.008,0.009,0.01,0.02,0.03,0.04,0.05,0.06,0.07,0.08,0.09,0.1],"labelExpr":"datum.value === 0.1 ? '10⁻¹' : datum.value === 0.01 ? '10⁻²' : ''","tickSize":{"condition":{"test":"datum.value === 0.1 || datum.value === 0.01","value":-6},"value":-4},"labelPadding":10,"labelBaseline":"middle","title":"sin²2θ₁₃","titleFontSize":19,"titleX":-58,"titleY":196,"titleBaseline":"middle","titleAngle":-90}},
"strokeDash":{"field":"s","type":"nominal","scale":{"domain":["0.40","0.50","0.60"],"range":[[1.5,1.5],[1,0],[4.5,2.5]]},"legend":null},
"strokeWidth":{"field":"w","type":"nominal","scale":{"type":"ordinal","domain":["thick","thin"],"range":[2.2,0.8]},"legend":null}}},
{"data":{"name":"notes"},"transform":[{"filter":"datum.p === 'C'"}],"mark":{"type":"text","fontSize":13,"color":"black","align":"center","baseline":"middle"},
"encoding":{
"x":{"field":"x","type":"quantitative","axis":{"orient":"top","title":null,"labels":false,"values":[0,0.2,0.4,0.6,0.8,1,1.2,1.4,1.6,1.8,2,2.2,2.4,2.6,2.8,3,3.2,3.4,3.6,3.8,4,4.2,4.4,4.6,4.8,5,5.2,5.4,5.6,5.8,6,6.2],"tickSize":{"condition":{"test":"datum.value % 1 === 0","value":-6},"value":-4}}},
"y":{"field":"y","type":"quantitative","axis":{"orient":"right","title":null,"labels":false,"values":[0.003,0.004,0.005,0.006,0.007,0.008,0.009,0.01,0.02,0.03,0.04,0.05,0.06,0.07,0.08,0.09,0.1],"tickSize":{"condition":{"test":"datum.value === 0.1 || datum.value === 0.01","value":-6},"value":-4}}},
"text":{"field":"t"}}}
],
"resolve":{"axis":{"x":"independent","y":"independent"}}},
{"width":382,"height":200,
"layer":[
{"data":{"name":"d"},"transform":[{"filter":"datum.p === 'B'"}],"mark":{"type":"line","color":"black","strokeCap":"butt"},
"encoding":{
"x":{"field":"x","type":"quantitative","scale":{"domain":[-0.1,6.38],"nice":false,"zero":false},"axis":{"orient":"bottom","title":"δ","titleFont":"Liberation Serif","titleFontSize":22,"titlePadding":-2,"values":[0,0.2,0.4,0.6,0.8,1,1.2,1.4,1.6,1.8,2,2.2,2.4,2.6,2.8,3,3.2,3.4,3.6,3.8,4,4.2,4.4,4.6,4.8,5,5.2,5.4,5.6,5.8,6,6.2],"labelExpr":"datum.value % 1 === 0 ? format(datum.value, 'd') : ''","tickSize":{"condition":{"test":"datum.value % 1 === 0","value":-6},"value":-4},"labelPadding":6}},
"y":{"field":"y","type":"quantitative","scale":{"type":"log","domain":[0.00146,0.1],"nice":false},"axis":{"orient":"left","title":null,"values":[0.002,0.003,0.004,0.005,0.006,0.007,0.008,0.009,0.01,0.02,0.03,0.04,0.05,0.06,0.07,0.08,0.09,0.1],"labelExpr":"datum.value === 0.1 ? '10⁻¹' : datum.value === 0.01 ? '10⁻²' : ''","tickSize":{"condition":{"test":"datum.value === 0.1 || datum.value === 0.01","value":-6},"value":-4},"labelPadding":10,"labelBaseline":"middle"}},
"strokeDash":{"field":"s","type":"nominal","scale":{"domain":["0.40","0.50","0.60"],"range":[[1.5,1.5],[1,0],[4.5,2.5]]},"legend":{"orient":"none","legendX":33,"legendY":152,"title":null,"symbolType":"M-3,0H3","symbolStrokeWidth":2.2,"symbolStrokeColor":"black","symbolFillColor":"transparent","symbolSize":64,"labelExpr":"'sin²θ₂₃ = ' + datum.label","labelFontSize":12,"labelOffset":19,"rowPadding":2}},
"strokeWidth":{"field":"w","type":"nominal","scale":{"type":"ordinal","domain":["thick","thin"],"range":[2.2,0.8]},"legend":null}}},
{"data":{"name":"notes"},"transform":[{"filter":"datum.p === 'B'"}],"mark":{"type":"text","fontSize":13,"color":"black","align":"center","baseline":"middle"},
"encoding":{
"x":{"field":"x","type":"quantitative","axis":{"orient":"top","title":null,"labels":false,"values":[0,0.2,0.4,0.6,0.8,1,1.2,1.4,1.6,1.8,2,2.2,2.4,2.6,2.8,3,3.2,3.4,3.6,3.8,4,4.2,4.4,4.6,4.8,5,5.2,5.4,5.6,5.8,6,6.2],"tickSize":{"condition":{"test":"datum.value % 1 === 0","value":-6},"value":-4}}},
"y":{"field":"y","type":"quantitative","axis":{"orient":"right","title":null,"labels":false,"values":[0.002,0.003,0.004,0.005,0.006,0.007,0.008,0.009,0.01,0.02,0.03,0.04,0.05,0.06,0.07,0.08,0.09,0.1],"tickSize":{"condition":{"test":"datum.value === 0.1 || datum.value === 0.01","value":-6},"value":-4}}},
"text":{"field":"t"}}}
],
"resolve":{"axis":{"x":"independent","y":"independent"}}},
{"width":377,"height":202,
"layer":[
{"data":{"name":"d"},"transform":[{"filter":"datum.p === 'D'"}],"mark":{"type":"line","color":"black","strokeCap":"butt"},
"encoding":{
"x":{"field":"x","type":"quantitative","scale":{"domain":[-0.1,6.39],"nice":false,"zero":false},"axis":{"orient":"bottom","title":"δ","titleFont":"Liberation Serif","titleFontSize":22,"titlePadding":-2,"values":[0,0.2,0.4,0.6,0.8,1,1.2,1.4,1.6,1.8,2,2.2,2.4,2.6,2.8,3,3.2,3.4,3.6,3.8,4,4.2,4.4,4.6,4.8,5,5.2,5.4,5.6,5.8,6,6.2],"labelExpr":"datum.value % 1 === 0 ? format(datum.value, 'd') : ''","tickSize":{"condition":{"test":"datum.value % 1 === 0","value":-6},"value":-4},"labelPadding":6}},
"y":{"field":"y","type":"quantitative","scale":{"type":"log","domain":[0.00151,0.1096],"nice":false},"axis":{"orient":"left","title":null,"values":[0.002,0.003,0.004,0.005,0.006,0.007,0.008,0.009,0.01,0.02,0.03,0.04,0.05,0.06,0.07,0.08,0.09,0.1],"labelExpr":"datum.value === 0.1 ? '10⁻¹' : datum.value === 0.01 ? '10⁻²' : ''","tickSize":{"condition":{"test":"datum.value === 0.1 || datum.value === 0.01","value":-6},"value":-4},"labelPadding":10,"labelBaseline":"middle"}},
"strokeDash":{"field":"s","type":"nominal","scale":{"domain":["0.40","0.50","0.60"],"range":[[1.5,1.5],[1,0],[4.5,2.5]]},"legend":{"orient":"none","legendX":32,"legendY":154,"title":null,"symbolType":"M-3,0H3","symbolStrokeWidth":2.2,"symbolStrokeColor":"black","symbolFillColor":"transparent","symbolSize":64,"labelExpr":"'sin²θ₂₃ = ' + datum.label","labelFontSize":12,"labelOffset":19,"rowPadding":2}},
"strokeWidth":{"field":"w","type":"nominal","scale":{"type":"ordinal","domain":["thick","thin"],"range":[2.2,0.8]},"legend":null}}},
{"data":{"name":"notes"},"transform":[{"filter":"datum.p === 'D'"}],"mark":{"type":"text","fontSize":13,"color":"black","align":"center","baseline":"middle"},
"encoding":{
"x":{"field":"x","type":"quantitative","axis":{"orient":"top","title":null,"labels":false,"values":[0,0.2,0.4,0.6,0.8,1,1.2,1.4,1.6,1.8,2,2.2,2.4,2.6,2.8,3,3.2,3.4,3.6,3.8,4,4.2,4.4,4.6,4.8,5,5.2,5.4,5.6,5.8,6,6.2],"tickSize":{"condition":{"test":"datum.value % 1 === 0","value":-6},"value":-4}}},
"y":{"field":"y","type":"quantitative","axis":{"orient":"right","title":null,"labels":false,"values":[0.002,0.003,0.004,0.005,0.006,0.007,0.008,0.009,0.01,0.02,0.03,0.04,0.05,0.06,0.07,0.08,0.09,0.1],"tickSize":{"condition":{"test":"datum.value === 0.1 || datum.value === 0.01","value":-6},"value":-4}}},
"text":{"field":"t"}}}
],
"resolve":{"axis":{"x":"independent","y":"independent"}}}
]
}
